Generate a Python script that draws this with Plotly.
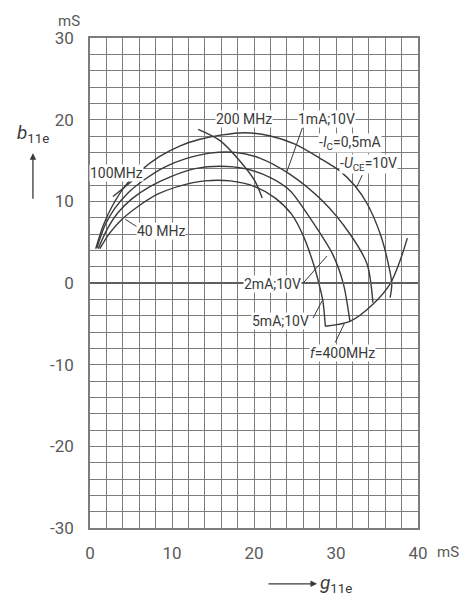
import plotly.graph_objects as go

# Input admittance y11e = g11e + j*b11e, frequency as curve parameter (40 ... 400 MHz)
g_05mA = [0.7, 1.6, 2.7, 4.3, 6.1, 8.5, 11.0, 13.4, 15.9, 18.9, 22.0, 25.0, 28.0, 30.5, 32.3, 33.8, 35.4, 36.3, 36.8, 36.6]
b_05mA = [4.2, 7.0, 9.4, 11.9, 13.7, 15.5, 16.8, 17.6, 18.1, 18.4, 18.0, 17.0, 15.3, 13.7, 11.9, 9.7, 6.0, 2.7, -0.1, -1.8]

g_1mA = [0.85, 1.8, 3.0, 4.6, 6.7, 9.1, 11.6, 14.6, 17.7, 20.7, 24.4, 28.4, 31.7, 33.8, 34.5]
b_1mA = [4.3, 7.0, 9.1, 11.0, 12.7, 14.2, 15.2, 15.9, 16.0, 15.3, 13.3, 10.0, 6.0, 2.3, -2.4]

g_2mA = [1.0, 2.1, 3.4, 5.1, 7.3, 9.8, 12.8, 15.9, 18.9, 22.0, 24.4, 26.8, 29.6, 30.9, 31.7]
b_2mA = [4.2, 6.6, 8.6, 10.3, 11.8, 13.0, 14.0, 14.3, 14.0, 12.9, 11.3, 8.0, 3.5, -0.1, -4.7]

g_5mA = [1.2, 2.4, 3.9, 5.9, 8.3, 11.0, 14.0, 17.1, 20.1, 22.6, 24.6, 26.0, 27.2, 27.9, 28.4, 28.7]
b_5mA = [4.2, 6.1, 7.8, 9.4, 10.9, 11.9, 12.5, 12.5, 11.8, 10.4, 8.4, 5.8, 2.5, 0.0, -2.2, -5.3]

# constant-frequency lines
g_400MHz = [28.7, 31.7, 34.5, 36.6, 37.8, 38.7]
b_400MHz = [-5.3, -4.7, -2.6, -0.1, 2.7, 5.5]

g_200MHz = [13.2, 15.9, 18.3, 20.1, 21.0]
b_200MHz = [18.8, 17.4, 14.9, 12.5, 10.4]

g_100MHz = [2.8, 5.9]
b_100MHz = [10.6, 13.1]

x_ticks = [0, 10, 20, 30, 40]
y_ticks = [-30, -20, -10, 0, 10, 20, 30]

INK = "#3a3a3a"
GRID = "#7c7c7c"
TICK = "#5a5a5a"
FONT = "Roboto, sans-serif"

fig = go.Figure()
for gx, by in [(g_05mA, b_05mA), (g_1mA, b_1mA), (g_2mA, b_2mA), (g_5mA, b_5mA),
               (g_400MHz, b_400MHz), (g_200MHz, b_200MHz), (g_100MHz, b_100MHz)]:
    fig.add_trace(go.Scatter(x=gx, y=by, mode="lines", line=dict(color=INK, width=1.4, shape="spline", smoothing=0.8),
                             showlegend=False, hoverinfo="skip"))

axis_common = dict(
    showgrid=True, gridcolor=GRID, gridwidth=1.3,
    minor=dict(dtick=2, showgrid=True, gridcolor=GRID, gridwidth=1.3),
    zeroline=False, showline=True, linecolor=GRID, linewidth=1.5, mirror=True,
    ticks="", tickfont=dict(family=FONT, size=17, color=TICK), fixedrange=True,
)

fig.update_xaxes(range=[0, 40], tickvals=x_ticks, ticktext=[str(v) for v in x_ticks], ticklabelstandoff=9, **axis_common)
fig.update_yaxes(range=[-30, 30], tickvals=y_ticks, ticktext=[str(v) for v in y_ticks], ticklabelstandoff=11, **axis_common)

# slightly heavier b = 0 line
fig.add_hline(y=0, line=dict(color="#5e5e5e", width=1.8))

def label(x, y, text, size=14, xanchor="center"):
    fig.add_annotation(x=x, y=y, text=text, showarrow=False, bgcolor="white", borderpad=0,
                       font=dict(family=FONT, size=size, color=INK), xanchor=xanchor, yanchor="middle")

def leader(x0, y0, x1, y1):
    fig.add_shape(type="line", x0=x0, y0=y0, x1=x1, y1=y1, line=dict(color=INK, width=1))

label(18.8, 20.1, "200 MHz")
label(28.9, 20.1, "1mA;10V")
leader(25.9, 19.0, 24.0, 13.6)
label(31.7, 17.2, "-<i>I</i><sub>C</sub>=0,5mA")
label(34.0, 14.6, "-<i>U</i><sub>CE</sub>=10V")
leader(33.2, 13.2, 32.5, 11.7)
label(3.2, 13.5, "100MHz")
label(8.7, 6.4, "40 MHz")
leader(5.7, 6.9, 4.3, 7.8)
label(22.2, -0.1, "2mA;10V")
leader(26.0, 0.0, 28.9, 3.3)
label(23.2, -4.65, "5mA;10V")
leader(27.2, -4.3, 28.3, -2.2)
label(30.8, -8.6, "<i>f</i>=400MHz")
leader(29.9, -7.3, 31.0, -5.0)

# axis units and titles
fig.add_annotation(xref="paper", yref="paper", x=-0.064, y=1.035, text="mS", showarrow=False,
                   xanchor="center", yanchor="middle", font=dict(family=FONT, size=15, color=TICK))
fig.add_annotation(xref="paper", yref="paper", x=1.0, y=-0.048, text="mS", showarrow=False,
                   xanchor="left", xshift=17, yanchor="middle", font=dict(family=FONT, size=15, color=TICK))
fig.add_annotation(xref="paper", yref="paper", x=-0.229, y=0.806, text="<i>b</i><sub>11e</sub>", showarrow=False,
                   xanchor="left", yanchor="middle", font=dict(family=FONT, size=19, color=INK))
fig.add_annotation(xref="paper", yref="paper", x=-0.174, y=0.765, ax=0, ay=47,
                   text="", showarrow=True, arrowhead=2, arrowsize=1, arrowwidth=1.3, arrowcolor=INK)
fig.add_annotation(xref="paper", yref="paper", x=0.695, y=-0.114, text="<i>g</i><sub>11e</sub>", showarrow=False,
                   xanchor="left", yanchor="middle", font=dict(family=FONT, size=19, color=INK))
fig.add_annotation(xref="paper", yref="paper", x=0.692, y=-0.114, ax=-50, ay=0,
                   text="", showarrow=True, arrowhead=2, arrowsize=1, arrowwidth=1.3, arrowcolor=INK)

fig.update_layout(
    width=461, height=597,
    margin=dict(l=90, r=43, t=38, b=69),
    plot_bgcolor="white", paper_bgcolor="white",
    showlegend=False,
)

fig.write_html("out.html")
